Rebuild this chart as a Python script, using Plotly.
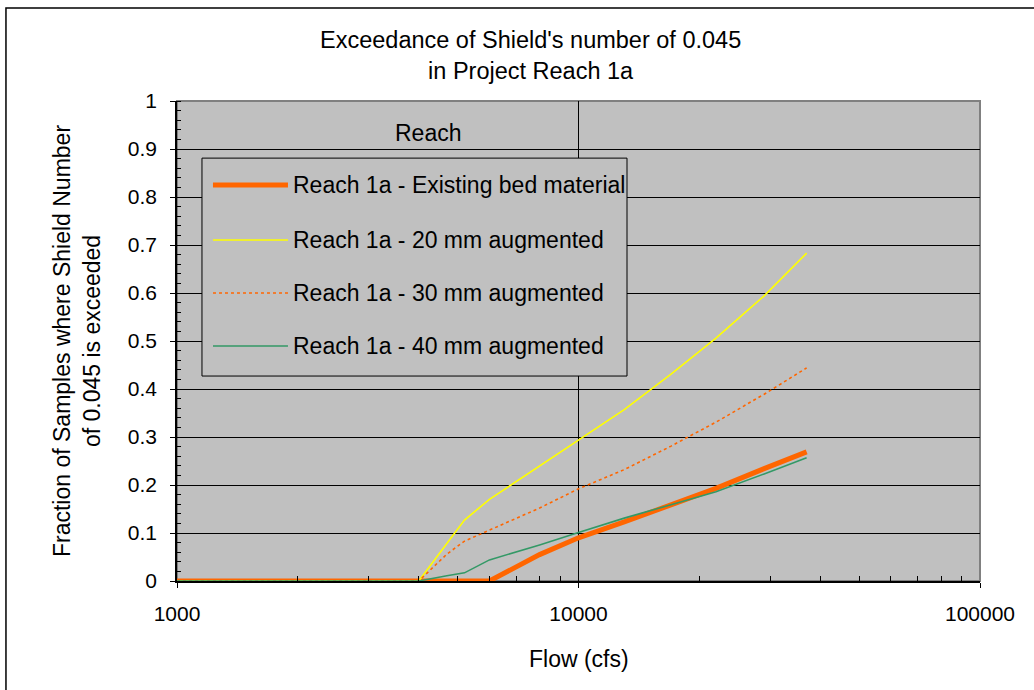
import plotly.graph_objects as go

# Flow values (cfs) at which the exceedance fraction was evaluated
flows = [1000, 4000, 4700, 5200, 6000, 8000, 10000, 13000, 17000, 22000, 29000, 37000]

# Fraction of samples where Shield's number of 0.045 is exceeded
existing_bed = [0, 0, 0, 0, 0, 0.055, 0.090, 0.123, 0.159, 0.193, 0.234, 0.269]
aug_20mm = [0, 0, 0.078, 0.127, 0.170, 0.239, 0.294, 0.357, 0.431, 0.506, 0.594, 0.683]
aug_30mm = [0, 0, 0.056, 0.083, 0.106, 0.152, 0.192, 0.232, 0.281, 0.331, 0.389, 0.444]
aug_40mm = [0, 0, 0.011, 0.017, 0.044, 0.075, 0.101, 0.131, 0.159, 0.186, 0.223, 0.257]

series_names = [
    "Reach 1a - Existing bed material",
    "Reach 1a - 20 mm augmented",
    "Reach 1a - 30 mm augmented",
    "Reach 1a - 40 mm augmented",
]

x_tick_vals = [1000, 10000, 100000]
x_tick_text = ["1000", "10000", "100000"]
x_minor_vals = [m * d for d in (1000, 10000) for m in range(2, 10)]

FONT = "Liberation Sans, Arial, sans-serif"
ORANGE = "#FF6600"
YELLOW = "#FFFF00"
GREEN = "#339966"
PLOT_BG = "#C0C0C0"
TEXT_SIZE = 23
TITLE_SIZE = 23.5
TICK_SIZE = 21

styles = [
    dict(color=ORANGE, width=5, dash="solid"),
    dict(color=YELLOW, width=1.6, dash="solid"),
    dict(color=ORANGE, width=1.6, dash="dot"),
    dict(color=GREEN, width=1.6, dash="solid"),
]
values = [existing_bed, aug_20mm, aug_30mm, aug_40mm]

fig = go.Figure()
for name, ys, st in zip(series_names, values, styles):
    fig.add_trace(go.Scatter(x=flows, y=ys, mode="lines", name=name,
                             line=st, showlegend=False))

# Custom legend box (wide line samples)
leg_x0, leg_x1, leg_y0, leg_y1 = 0.0311, 0.5604, 0.427, 0.881
shapes = [
    # outer chart border
    dict(type="rect", xref="paper", yref="paper", x0=-0.213, x1=1.2, y0=-0.4, y1=1.194,
         line=dict(color="black", width=1.5), fillcolor="rgba(0,0,0,0)", layer="below"),
    # plot area frame (top/right)
    dict(type="rect", xref="paper", yref="paper", x0=0, x1=1, y0=0, y1=1,
         line=dict(color="#808080", width=2), layer="below"),
    dict(type="rect", xref="paper", yref="paper", x0=leg_x0, x1=leg_x1, y0=leg_y0, y1=leg_y1,
         line=dict(color="black", width=1), fillcolor=PLOT_BG, layer="above"),
]
annotations = []
row_y = [0.825, 0.7104, 0.600, 0.4896]
for name, st, ry in zip(series_names, styles, row_y):
    shapes.append(dict(type="line", xref="paper", yref="paper", x0=0.0448, x1=0.1382,
                       y0=ry, y1=ry, line=st, layer="above"))
    annotations.append(dict(text=name, xref="paper", yref="paper", x=0.1420, y=ry,
                            xanchor="left", yanchor="middle", showarrow=False,
                            font=dict(family=FONT, size=TEXT_SIZE, color="black")))

annotations += [
    dict(text="Reach", xref="paper", yref="paper", x=0.3126, y=0.933,
         xanchor="center", yanchor="middle", showarrow=False,
         font=dict(family=FONT, size=TEXT_SIZE, color="black")),
    dict(text="Exceedance of Shield's number of 0.045<br>in Project Reach 1a",
         xref="paper", yref="paper", x=0.4408, y=1.094, xanchor="center", yanchor="middle",
         showarrow=False, font=dict(family=FONT, size=TITLE_SIZE, color="black")),
    dict(text="Fraction of Samples where Shield Number<br>of 0.045 is exceeded",
         xref="paper", yref="paper", x=-0.1245, y=0.5, textangle=-90,
         xanchor="center", yanchor="middle", showarrow=False,
         font=dict(family=FONT, size=TEXT_SIZE, color="black")),
    dict(text="Flow (cfs)", xref="paper", yref="paper", x=0.5, y=-0.163,
         xanchor="center", yanchor="middle", showarrow=False,
         font=dict(family=FONT, size=TEXT_SIZE, color="black")),
]

fig.update_layout(
    width=1034, height=690,
    margin=dict(l=177, r=54, t=101, b=109),
    paper_bgcolor="white",
    plot_bgcolor=PLOT_BG,
    font=dict(family=FONT, size=TICK_SIZE, color="black"),
    shapes=shapes,
    annotations=annotations,
    showlegend=False,
)

fig.update_xaxes(
    type="log", range=[3, 5],
    tickvals=x_tick_vals, ticktext=x_tick_text,
    showgrid=True, gridcolor="black", gridwidth=1,
    showline=True, linecolor="black", linewidth=1.5,
    ticks="outside", ticklen=5, tickcolor="black",
    ticklabelstandoff=8,
    minor=dict(tickmode="array", tickvals=x_minor_vals, ticks="inside", ticklen=5,
               tickcolor="black", showgrid=False),
    zeroline=False,
    tickfont=dict(family=FONT, size=TICK_SIZE),
)
fig.update_yaxes(
    range=[0, 1], dtick=0.1, tickformat="~g",
    showgrid=True, gridcolor="black", gridwidth=1,
    showline=True, linecolor="black", linewidth=1.5,
    ticks="outside", ticklen=5, tickcolor="black",
    ticklabelstandoff=9,
    minor=dict(ticks="inside", ticklen=4, dtick=0.02, tickcolor="black", showgrid=False),
    zeroline=False,
    tickfont=dict(family=FONT, size=TICK_SIZE),
)

fig.write_html("out.html")
